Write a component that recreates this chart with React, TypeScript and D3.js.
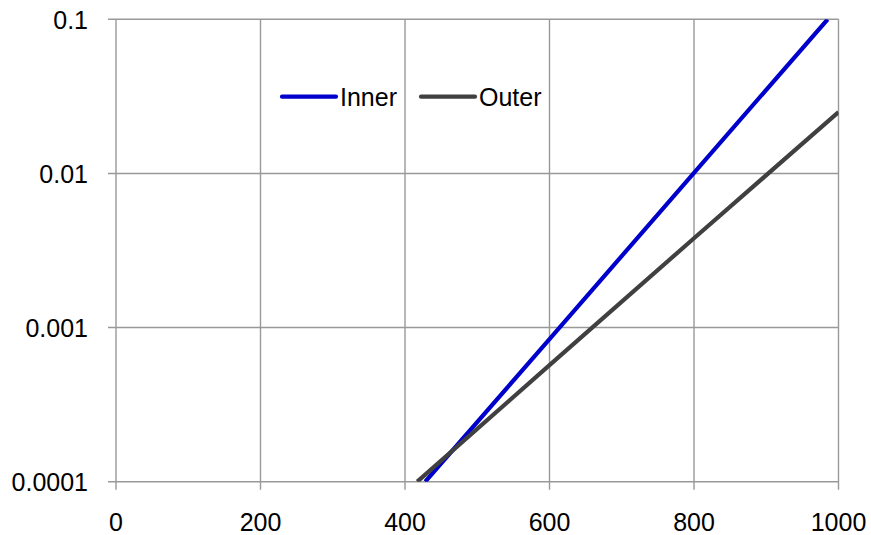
import React from 'react'
import * as d3 from 'd3'

const xTicks = [0, 200, 400, 600, 800, 1000]
const yTicks = [0.0001, 0.001, 0.01, 0.1]
const yTickLabels = ['0.0001', '0.001', '0.01', '0.1']

const innerX = [428, 600, 800, 985]
const innerY = [0.0001, 0.00084, 0.0101, 0.1]
const outerX = [417, 600, 800, 1000]
const outerY = [0.0001, 0.00057, 0.0038, 0.025]

const series = [
    { name: 'Inner', xs: innerX, ys: innerY, color: '#0000cc' },
    { name: 'Outer', xs: outerX, ys: outerY, color: '#404040' },
]

const width = 871
const height = 535
const margin = { left: 116, right: 32.5, top: 19.3, bottom: 53.3 }

function App() {
    const x = d3.scaleLinear().domain([0, 1000]).range([margin.left, width - margin.right])
    const y = d3.scaleLog().domain([0.0001, 0.1]).range([height - margin.bottom, margin.top])

    const line = d3
        .line<[number, number]>()
        .x(d => x(d[0]))
        .y(d => y(d[1]))

    const font = 'Liberation Sans, Arial, sans-serif'
    const grid = '#999999'
    const fs = 25

    return (
        <svg
            width={width}
            height={height}
            style={{ position: 'absolute', left: 0, top: 0, fontFamily: font }}
        >
            <defs>
                <clipPath id="plot">
                    <rect
                        x={margin.left}
                        y={margin.top}
                        width={width - margin.left - margin.right}
                        height={height - margin.top - margin.bottom}
                    />
                </clipPath>
            </defs>
            {xTicks.map(t => (
                <g key={'x' + t}>
                    <line
                        x1={x(t)}
                        x2={x(t)}
                        y1={margin.top}
                        y2={height - margin.bottom + 8}
                        stroke={grid}
                        strokeWidth={1.4}
                    />
                    <text x={x(t)} y={height - margin.bottom + 49.5} textAnchor="middle" fontSize={fs}>
                        {t}
                    </text>
                </g>
            ))}
            {yTicks.map((t, i) => (
                <g key={'y' + t}>
                    <line
                        x1={margin.left - 8}
                        x2={width - margin.right}
                        y1={y(t)}
                        y2={y(t)}
                        stroke={grid}
                        strokeWidth={1.4}
                    />
                    <text x={88} y={y(t) + 9.5} textAnchor="end" fontSize={fs}>
                        {yTickLabels[i]}
                    </text>
                </g>
            ))}
            <g clipPath="url(#plot)">
                {series.map(s => (
                    <path
                        key={s.name}
                        d={line(s.xs.map((v, i) => [v, s.ys[i]] as [number, number])) || ''}
                        fill="none"
                        stroke={s.color}
                        strokeWidth={4.2}
                    />
                ))}
            </g>
            {series.map((s, i) => {
                const lx = 282 + i * 139
                return (
                    <g key={'leg' + s.name}>
                        <line
                            x1={lx}
                            x2={lx + 54}
                            y1={96.7}
                            y2={96.7}
                            stroke={s.color}
                            strokeWidth={4.2}
                            strokeLinecap="round"
                        />
                        <text x={lx + 58} y={106} fontSize={fs}>
                            {s.name}
                        </text>
                    </g>
                )
            })}
        </svg>
    )
}

export default App
